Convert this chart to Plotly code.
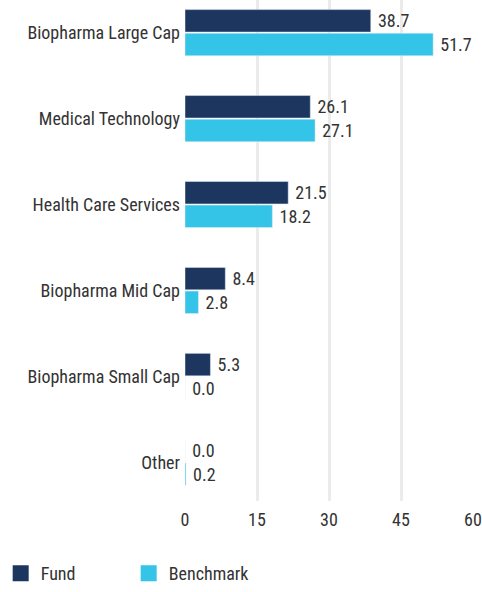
import plotly.graph_objects as go

categories = ["Biopharma Large Cap", "Medical Technology", "Health Care Services",
              "Biopharma Mid Cap", "Biopharma Small Cap", "Other"]
fund = [38.7, 26.1, 21.5, 8.4, 5.3, 0.0]
benchmark = [51.7, 27.1, 18.2, 2.8, 0.0, 0.2]
x_ticks = [0, 15, 30, 45, 60]

FONT = "Roboto Condensed, Arial Narrow, Liberation Sans Narrow, Roboto, sans-serif"
TXT = "#333333"
C_FUND = "#1c365f"
C_BENCH = "#33c4e8"
FS = 18

fig = go.Figure()
fig.add_trace(go.Bar(y=categories, x=fund, name="Fund", orientation="h",
                     marker=dict(color=C_FUND), showlegend=False, legendgroup="f",
                     text=fund, texttemplate=" %{x:.1f}", textposition="outside",
                     textfont=dict(size=FS, color=TXT, family=FONT), cliponaxis=False))
fig.add_trace(go.Bar(y=categories, x=benchmark, name="Benchmark", orientation="h",
                     marker=dict(color=C_BENCH), showlegend=False, legendgroup="b",
                     text=benchmark, texttemplate=" %{x:.1f}", textposition="outside",
                     textfont=dict(size=FS, color=TXT, family=FONT), cliponaxis=False))
# legend swatches (larger squares)
fig.add_trace(go.Scatter(x=[None], y=[None], mode="markers", name="Fund", legendgroup="f",
                         marker=dict(symbol="square", size=18, color=C_FUND)))
fig.add_trace(go.Scatter(x=[None], y=[None], mode="markers", name="Benchmark", legendgroup="b",
                         marker=dict(symbol="square", size=18, color=C_BENCH)))

fig.update_layout(
    width=482, height=592,
    barmode="group", bargap=0.45, bargroupgap=0.05,
    plot_bgcolor="white", paper_bgcolor="white",
    font=dict(family=FONT, size=FS, color=TXT),
    margin=dict(l=185, r=9, t=0, b=89),
    xaxis=dict(range=[0, 60], tickvals=x_ticks, showgrid=True, gridcolor="#ebebeb",
               gridwidth=3, zeroline=False, showline=False, ticks="",
               automargin=False, ticklabeloverflow="allow", ticklabelstandoff=6,
               tickfont=dict(size=FS, color=TXT)),
    yaxis=dict(type="category", range=[5.45, -0.38], showgrid=False, zeroline=False, ticks="",
               automargin=False, ticklabelstandoff=4, tickfont=dict(size=FS, color=TXT)),
    legend=dict(orientation="h", xref="paper", yref="paper",
                x=-0.64, y=-0.145, xanchor="left", yanchor="middle",
                entrywidth=83, entrywidthmode="pixels",
                font=dict(size=FS, color=TXT), traceorder="normal"),
)

fig.write_html("out.html", post_script="document.body.style.margin='0';",
               config={"displayModeBar": False})
